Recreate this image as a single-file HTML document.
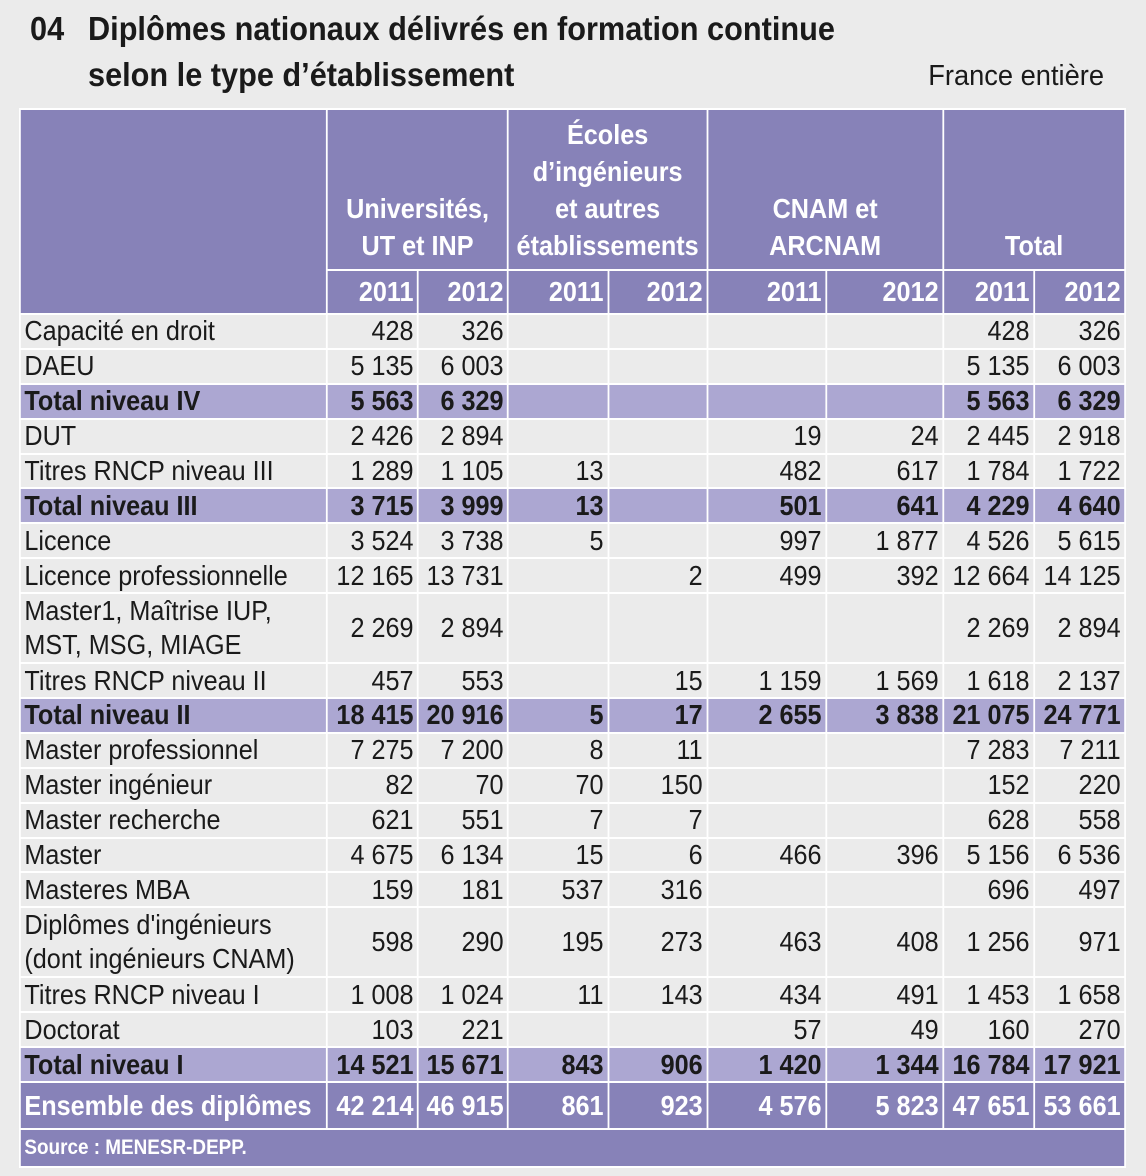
<!DOCTYPE html>
<html><head><meta charset="utf-8"><style>
html,body{margin:0;padding:0;}
body{width:1146px;height:1176px;background:#ebebeb;position:relative;overflow:hidden;font-family:"Liberation Sans",sans-serif;color:#1a1a1a;}
.t{position:absolute;font-weight:bold;font-size:33px;line-height:46px;color:#1a1a1a;transform:scaleX(.93);transform-origin:left top;white-space:nowrap;}
.fe{position:absolute;right:42px;top:60px;font-size:29px;transform:scaleX(.94);transform-origin:right top;}
table{position:absolute;left:19px;top:108px;border-collapse:separate;border-spacing:2px;background:#fff;table-layout:fixed;width:1230px;transform:scaleX(.9);transform-origin:left top;}
td{padding:0 4px;font-size:28px;background:#ebebeb;text-align:right;white-space:nowrap;line-height:30px;height:32.9px;overflow:hidden;}
td.l{text-align:left;}
tr.h td{background:#8782b8;color:#fff;font-weight:bold;text-align:center;vertical-align:bottom;line-height:37px;padding-bottom:5px;}
tr.y td{background:#8782b8;color:#fff;font-weight:bold;height:42px;text-align:right;}
tr.tot td{background:#aca7d2;font-weight:bold;}
tr.d2 td{height:67px;line-height:34px;}
tr.ens td{background:#8782b8;color:#fff;font-weight:bold;height:45px;font-size:28px;}
tr.src td{background:#8782b8;color:#fff;font-weight:bold;height:36px;font-size:21px;text-align:left;}
</style></head><body>
<div class="t" style="left:30px;top:6px;">04</div>
<div class="t" style="left:88px;top:6px;">Diplômes nationaux délivrés en formation continue<br>selon le type d’établissement</div>
<div class="fe">France entière</div>
<table>
<colgroup><col style="width:339px"><col style="width:99px"><col style="width:98px"><col style="width:109px"><col style="width:108px"><col style="width:130px"><col style="width:128px"><col style="width:99px"><col style="width:99px"></colgroup>
<tr class="h"><td rowspan="2" style="height:157px"></td><td colspan="2" style="height:154px">Universités,<br>UT et INP</td><td colspan="2">Écoles<br>d’ingénieurs<br>et autres<br>établissements</td><td colspan="2">CNAM et<br>ARCNAM</td><td colspan="2">Total</td></tr>
<tr class="y"><td>2011</td><td>2012</td><td>2011</td><td>2012</td><td>2011</td><td>2012</td><td>2011</td><td>2012</td></tr>
<tr><td class="l">Capacité en droit</td><td>428</td><td>326</td><td></td><td></td><td></td><td></td><td>428</td><td>326</td></tr>
<tr><td class="l">DAEU</td><td>5 135</td><td>6 003</td><td></td><td></td><td></td><td></td><td>5 135</td><td>6 003</td></tr>
<tr class="tot"><td class="l">Total niveau IV</td><td>5 563</td><td>6 329</td><td></td><td></td><td></td><td></td><td>5 563</td><td>6 329</td></tr>
<tr><td class="l">DUT</td><td>2 426</td><td>2 894</td><td></td><td></td><td>19</td><td>24</td><td>2 445</td><td>2 918</td></tr>
<tr><td class="l">Titres RNCP niveau III</td><td>1 289</td><td>1 105</td><td>13</td><td></td><td>482</td><td>617</td><td>1 784</td><td>1 722</td></tr>
<tr class="tot"><td class="l">Total niveau III</td><td>3 715</td><td>3 999</td><td>13</td><td></td><td>501</td><td>641</td><td>4 229</td><td>4 640</td></tr>
<tr><td class="l">Licence</td><td>3 524</td><td>3 738</td><td>5</td><td></td><td>997</td><td>1 877</td><td>4 526</td><td>5 615</td></tr>
<tr><td class="l">Licence professionnelle</td><td>12 165</td><td>13 731</td><td></td><td>2</td><td>499</td><td>392</td><td>12 664</td><td>14 125</td></tr>
<tr class="d2"><td class="l">Master1, Maîtrise IUP,<br>MST, MSG, MIAGE</td><td>2 269</td><td>2 894</td><td></td><td></td><td></td><td></td><td>2 269</td><td>2 894</td></tr>
<tr><td class="l">Titres RNCP niveau II</td><td>457</td><td>553</td><td></td><td>15</td><td>1 159</td><td>1 569</td><td>1 618</td><td>2 137</td></tr>
<tr class="tot"><td class="l">Total niveau II</td><td>18 415</td><td>20 916</td><td>5</td><td>17</td><td>2 655</td><td>3 838</td><td>21 075</td><td>24 771</td></tr>
<tr><td class="l">Master professionnel</td><td>7 275</td><td>7 200</td><td>8</td><td>11</td><td></td><td></td><td>7 283</td><td>7 211</td></tr>
<tr><td class="l">Master ingénieur</td><td>82</td><td>70</td><td>70</td><td>150</td><td></td><td></td><td>152</td><td>220</td></tr>
<tr><td class="l">Master recherche</td><td>621</td><td>551</td><td>7</td><td>7</td><td></td><td></td><td>628</td><td>558</td></tr>
<tr><td class="l">Master</td><td>4 675</td><td>6 134</td><td>15</td><td>6</td><td>466</td><td>396</td><td>5 156</td><td>6 536</td></tr>
<tr><td class="l">Masteres MBA</td><td>159</td><td>181</td><td>537</td><td>316</td><td></td><td></td><td>696</td><td>497</td></tr>
<tr class="d2"><td class="l">Diplômes d'ingénieurs<br>(dont ingénieurs CNAM)</td><td>598</td><td>290</td><td>195</td><td>273</td><td>463</td><td>408</td><td>1 256</td><td>971</td></tr>
<tr><td class="l">Titres RNCP niveau I</td><td>1 008</td><td>1 024</td><td>11</td><td>143</td><td>434</td><td>491</td><td>1 453</td><td>1 658</td></tr>
<tr><td class="l">Doctorat</td><td>103</td><td>221</td><td></td><td></td><td>57</td><td>49</td><td>160</td><td>270</td></tr>
<tr class="tot"><td class="l">Total niveau I</td><td>14 521</td><td>15 671</td><td>843</td><td>906</td><td>1 420</td><td>1 344</td><td>16 784</td><td>17 921</td></tr>
<tr class="ens"><td class="l">Ensemble des diplômes</td><td>42 214</td><td>46 915</td><td>861</td><td>923</td><td>4 576</td><td>5 823</td><td>47 651</td><td>53 661</td></tr>
<tr class="src"><td colspan="9">Source : MENESR-DEPP.</td></tr>
</table>
</body></html>
